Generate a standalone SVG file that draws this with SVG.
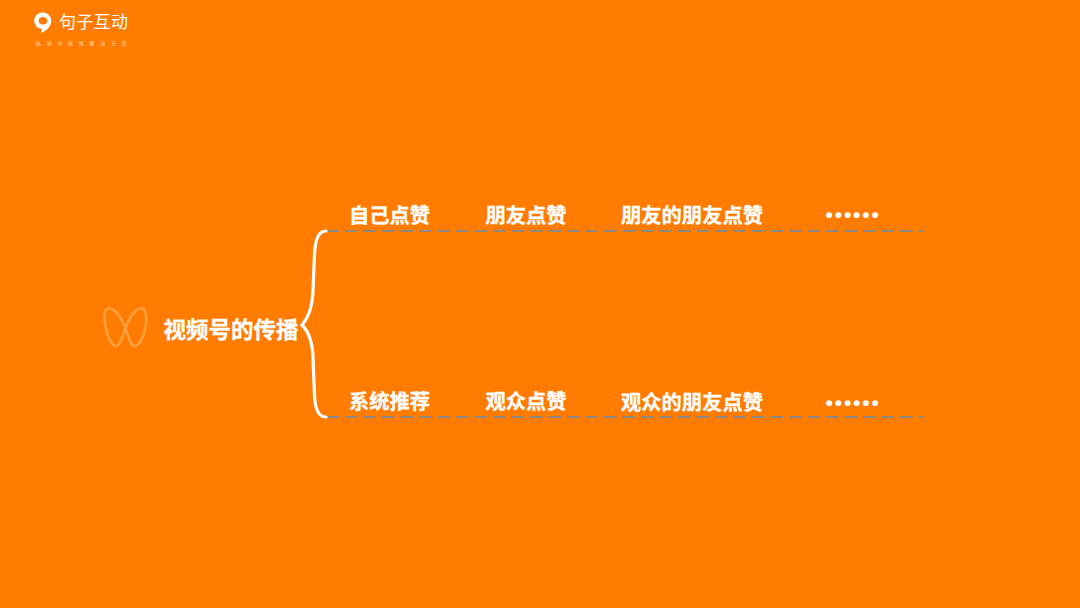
<svg xmlns="http://www.w3.org/2000/svg" width="1080" height="608" viewBox="0 0 1080 608">
<style>
.t{font-family:"Noto Sans CJK SC","Liberation Sans",sans-serif;font-weight:700;fill:#fff;font-size:20.300px;stroke:#fff;stroke-width:.3px}
.n{font-family:"Liberation Sans",sans-serif;font-weight:700;fill:#fff;font-size:21px;letter-spacing:1.850px}
.d{stroke:#8c8a80;stroke-width:2;stroke-dasharray:12.500 6;fill:none}
.b{stroke:#fff;stroke-width:3.200;fill:none;stroke-linecap:round;stroke-linejoin:miter}
</style>
<rect width="1080" height="608" fill="#ff7c00"/>
<g id="logo">
<path d="M43 12.500a8.300 8.300 0 0 1 8.300 8.300c0 5.500-4.500 9.700-10 12.400l.6-4.100a8.300 8.300 0 0 1 1.100-16.600z" fill="#fff"/>
<ellipse cx="43" cy="20.800" rx="4.300" ry="3.800" fill="#ff7c00"/>
<text x="59" y="28" style="font-family:'Noto Sans CJK SC',sans-serif;font-size:17px;fill:#fff;letter-spacing:.3px">句子互动</text>
<text x="36" y="44.500" style="font-family:'Noto Sans CJK SC',sans-serif;font-size:5px;fill:#ffdcb8;letter-spacing:5.700px">私域全链路解决方案</text>
</g>
<g id="connectors">
<path class="d" d="M326.500 231H924"/>
<path class="d" d="M326.500 417H924"/>
<path class="b" d="M326 231C318 231 315 240 314.500 255L313 290C312.500 308 308 318 302 325C308 331 312.500 340 313 358L314.500 395C315 409 318 417 326 417"/>
</g>
<g id="icon">
<path d="M109 308.500C104 308.500 103.500 316 105 324C107 334 111 346 116 346C120 346 123 335 125.500 328C129 318 135 308.500 141 308.500C146 308.500 147 316 146 324C144 334 140 346 135 346C130 346 128 335 125.500 328C122 318 115 308.500 109 308.500Z" fill="none" stroke="#ffa040" stroke-width="2.600"/>
</g>
<g id="root"><text class="t" x="163.500" y="337.500" style="font-size:22.500px">视频号的传播</text></g>
<g id="a1"><text class="t" x="349" y="222.500">自己点赞</text></g>
<g id="a2"><text class="t" x="485.500" y="222.500">朋友点赞</text></g>
<g id="a3"><text class="t" x="621" y="223">朋友的朋友点赞</text></g>
<g id="a4"><text class="n" x="825.500" y="222">••••••</text></g>
<g id="b1"><text class="t" x="349" y="408.500">系统推荐</text></g>
<g id="b2"><text class="t" x="485.500" y="408.500">观众点赞</text></g>
<g id="b3"><text class="t" x="621" y="409.500">观众的朋友点赞</text></g>
<g id="b4"><text class="n" x="825.500" y="410">••••••</text></g>
</svg>
